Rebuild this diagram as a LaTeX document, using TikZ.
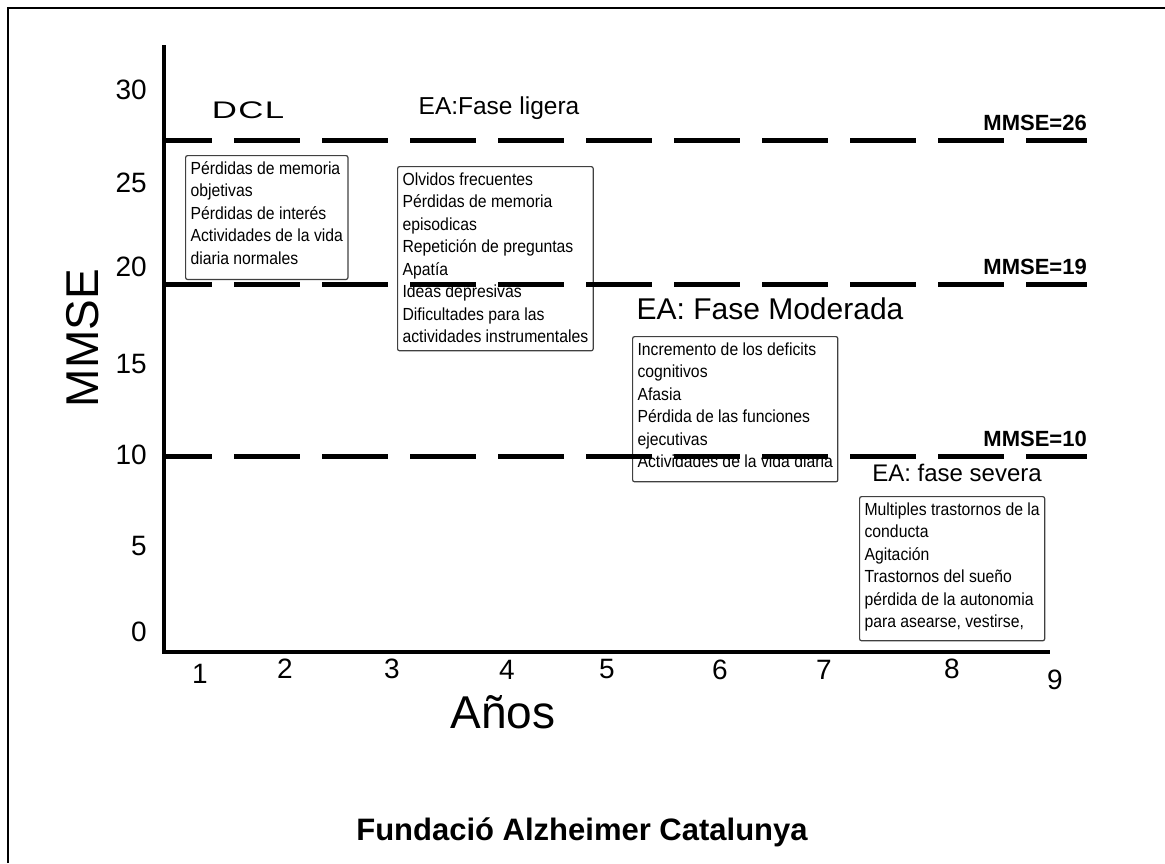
\documentclass[tikz,border=0pt]{standalone}
\usepackage{fontspec}
\setmainfont{Liberation Sans}
\newfontfamily\widefont[FakeStretch=1.45, LetterSpace=6]{Liberation Sans}
\newfontfamily\boxfont[FakeStretch=0.9]{Liberation Sans}

\tikzset{
  axisline/.style={line width=4.5pt, line join=miter},
  cutline/.style={line width=5pt, dash pattern=on 66pt off 22pt, dash phase=18pt},
  phasebox/.style={draw=black!75, line width=1.2pt, rounded corners=2pt, anchor=north west,
    align=left, inner xsep=5pt, inner ysep=6pt, font=\boxfont\fontsize{17.5}{22.5}\selectfont},
  ticklabel/.style={font=\fontsize{28}{30}\selectfont, inner sep=0pt},
  mmselabel/.style={font=\bfseries\fontsize{22}{24}\selectfont, anchor=east, inner sep=0pt},
  phasetitle/.style={inner sep=0pt}
}

\begin{document}
\begin{tikzpicture}[x=1pt, y=-1pt]
        \useasboundingbox (0,0) rectangle (1165,863);
        \draw[line width=2.5pt] (8,863) -- (8,8) -- (1165,8);

        % axes
        \coordinate (ytop) at (164,45);
        \coordinate (origin) at (164,652);
        \coordinate (xend) at (1050,652);
        \draw[axisline] (ytop) -- (origin) -- (xend);

        \foreach \y/\v in {90/30, 183/25, 267/20, 364/15, 455/10, 546/5, 632/0}
            \node[ticklabel, anchor=east] (ytick\v) at (147,\y) {\v};
        \foreach \x/\y/\n in {200/674/1, 285/669/2, 392/669/3, 507/670/4, 607/669/5, 720/670/6, 824/670/7, 952/669/8, 1055/680/9}
            \node[ticklabel] (xtick\n) at (\x,\y) {\n};

        \node[rotate=90, font=\fontsize{46}{50}\selectfont] (ytitle) at (83,338) {MMSE};
        \node[font=\fontsize{46}{50}\selectfont] (xtitle) at (503,712) {Años};

        % phase titles
        \node[phasetitle, font=\widefont\fontsize{24}{28}\selectfont] (dcl) at (248,110) {DCL};
        \node[phasetitle, font=\fontsize{24.5}{28}\selectfont] (ligera) at (499,108) {EA:Fase ligera};
        \node[phasetitle, font=\fontsize{30}{32}\selectfont] (moderada) at (770,309) {EA: Fase Moderada};
        \node[phasetitle, font=\fontsize{24}{28}\selectfont] (severa) at (957,473) {EA: fase severa};

        % symptom boxes
        \node[phasebox, text depth=9pt] (dclbox) at (185,155)
            {Pérdidas de memoria\\objetivas\\Pérdidas de interés\\Actividades de la vida\\diaria normales};
        \node[phasebox, text depth=2pt] (ligerabox) at (397,166)
            {Olvidos frecuentes\\Pérdidas de memoria\\episodicas\\Repetición de preguntas\\Apatía\\Ideas depresivas\\Dificultades para las\\actividades instrumentales};
        \node[phasebox, text depth=8pt] (moderadabox) at (632,336)
            {Incremento de los deficits\\cognitivos\\Afasia\\Pérdida de las funciones\\ejecutivas\\Actividades de la vida diaria};
        \node[phasebox, text depth=7pt] (severabox) at (859,496)
            {Multiples trastornos de la\\conducta\\Agitación\\Trastornos del sueño\\pérdida de la autonomia\\para asearse, vestirse,};

        % MMSE cut-offs
        \foreach \y/\v in {140/26, 284/19, 456/10} {
            \coordinate (cut\v a) at (164,\y);
            \coordinate (cut\v b) at (1087,\y);
            \draw[cutline] (cut\v a) -- (cut\v b);
            \node[mmselabel] (mmse\v) at (1087,\y-17) {MMSE=\v};
        }

        \node[font=\bfseries\fontsize{31}{34}\selectfont] (footer) at (582,832) {Fundació Alzheimer Catalunya};
    \end{tikzpicture}
\end{document}
